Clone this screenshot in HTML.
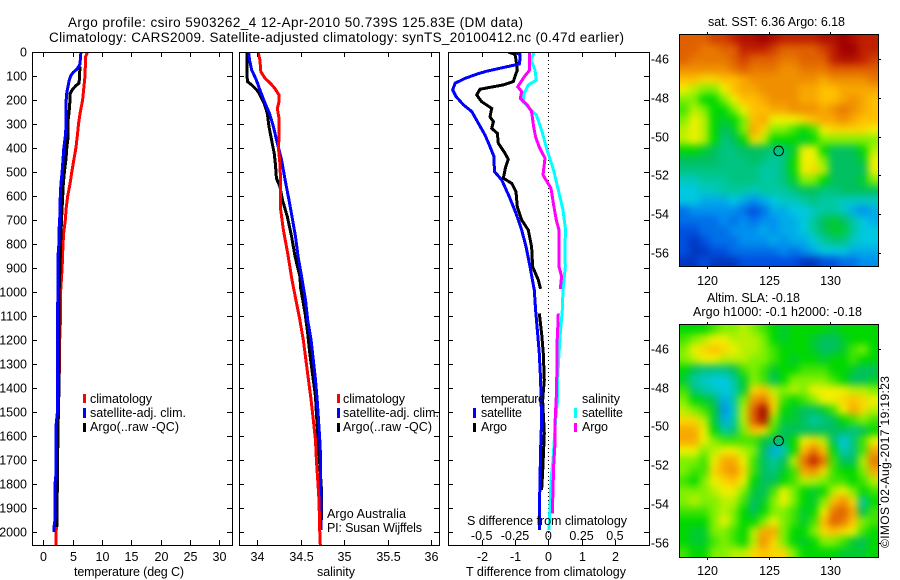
<!DOCTYPE html>
<html lang="en">
<head>
<meta charset="utf-8">
<title>Argo profile chart</title>
<style>
html,body{margin:0;padding:0;background:#fff;}
svg{display:block;}
text{font-family:"Liberation Sans",sans-serif;font-size:12.5px;fill:#000;}
.title{font-size:13.5px;}
</style>
</head>
<body>
<svg id="chart" xmlns="http://www.w3.org/2000/svg" width="900" height="580" viewBox="0 0 900 580">
  <defs>
    <clipPath id="clip-t"><rect x="33" y="52" width="199" height="493"/></clipPath>
    <clipPath id="clip-s"><rect x="240" y="52" width="199" height="493"/></clipPath>
    <clipPath id="clip-d"><rect x="449" y="52" width="200" height="493"/></clipPath>
    <clipPath id="clip-sst"><rect x="679" y="34" width="199" height="232"/></clipPath>
    <clipPath id="clip-sla"><rect x="679" y="324" width="199" height="233"/></clipPath>
    <filter id="map-blur-1" filterUnits="userSpaceOnUse" x="650" y="0" width="250" height="300" color-interpolation-filters="sRGB"><feGaussianBlur stdDeviation="4"/></filter>
    <filter id="map-blur-2" filterUnits="userSpaceOnUse" x="650" y="290" width="250" height="290" color-interpolation-filters="sRGB"><feGaussianBlur stdDeviation="4"/></filter>
  </defs>
  <rect x="0" y="0" width="900" height="580" fill="#fff"/>

  <text class="title" x="68" y="27" textLength="455">Argo profile: csiro 5903262_4 12-Apr-2010 50.739S 125.83E (DM data)</text>
  <text class="title" x="49" y="42" textLength="575">Climatology: CARS2009. Satellite-adjusted climatology: synTS_20100412.nc (0.47d earlier)</text>

  <g id="panel-temperature"></g>
  <g id="panel-salinity"></g>
  <g id="panel-difference"></g>
  <g id="panel-sst"></g>
  <g id="panel-sla"></g>

  <g>
    <rect x="83" y="394" width="3" height="9" fill="#f00"/>
    <text x="90" y="403" textLength="62">climatology</text>
    <rect x="83" y="408" width="3" height="10" fill="#00f"/>
    <text x="90" y="417" textLength="96">satellite-adj. clim.</text>
    <rect x="83" y="423" width="3" height="9" fill="#000"/>
    <text x="90" y="431" textLength="89">Argo(..raw -QC)</text>
  </g>
  <g>
    <rect x="337" y="394" width="3" height="9" fill="#f00"/>
    <text x="343" y="403" textLength="62">climatology</text>
    <rect x="337" y="408" width="3" height="10" fill="#00f"/>
    <text x="343" y="417" textLength="96">satellite-adj. clim.</text>
    <rect x="337" y="423" width="3" height="9" fill="#000"/>
    <text x="343" y="431" textLength="89">Argo(..raw -QC)</text>
  </g>
  <text x="327" y="518" textLength="79">Argo Australia</text>
  <text x="327" y="532" textLength="95">PI: Susan Wijffels</text>

  <g>
    <text x="481" y="403" textLength="64">temperature</text>
    <rect x="473" y="408" width="3" height="10" fill="#00f"/>
    <text x="481" y="417" textLength="41">satellite</text>
    <rect x="473" y="423" width="3" height="9" fill="#000"/>
    <text x="481" y="431" textLength="26">Argo</text>
    <text x="582" y="403" textLength="38">salinity</text>
    <rect x="574" y="408" width="3" height="10" fill="#0ff"/>
    <text x="582" y="417" textLength="41">satellite</text>
    <rect x="574" y="423" width="3" height="9" fill="#f0f"/>
    <text x="582" y="431" textLength="26">Argo</text>
  </g>

  <text x="129" y="576" text-anchor="middle" textLength="110">temperature (deg C)</text>
  <text x="336" y="576" text-anchor="middle" textLength="38">salinity</text>
  <text x="546" y="576" text-anchor="middle" textLength="160">T difference from climatology</text>
  <text x="547" y="525" text-anchor="middle" textLength="160">S difference from climatology</text>

  <text x="708" y="26" textLength="137">sat. SST: 6.36 Argo: 6.18</text>
  <text x="707" y="302" textLength="93">Altim. SLA: -0.18</text>
  <text x="693" y="316" textLength="169">Argo h1000: -0.1 h2000: -0.18</text>
  <text style="font-size:12px" transform="translate(889,548) rotate(-90)" textLength="172">©IMOS 02-Aug-2017 19:19:23</text>
</svg>

<script>
// ---------- axis tick data ----------
const depthTicks = [0,100,200,300,400,500,600,700,800,900,1000,1100,1200,1300,1400,1500,1600,1700,1800,1900,2000];
const tempTicks = [0,5,10,15,20,25,30];
const salTicks = [34,34.5,35,35.5,36];
const salTickLabels = ['34','34.5','35','35.5','36'];
const tDiffTicks = [-2,-1,0,1,2];
const sDiffTicks = [-0.5,-0.25,0,0.25,0.5];
const sDiffTickLabels = ['-0.5','-0.25','0','0.25','0.5'];
const lonTicks = [120,125,130];
const latTicks = [-46,-48,-50,-52,-54,-56];

// ---------- temperature profiles ----------
const tempClimDepth = [0,20,100,150,200,250,300,350,400,450,500,550,600,650,700,750,800,900,1000,1100,1200,1300,1400,1500,1600,1700,1800,1900,2000,2054];
const tempClimValue = [7.55,7.2,7.1,6.9,6.7,6.3,6,5.8,5.55,5.2,4.85,4.55,4.15,3.9,3.75,3.5,3.35,3.2,2.95,2.95,2.8,2.8,2.6,2.55,2.5,2.4,2.4,2.3,2.2,2.2];
const tempArgoDepth = [60,130,140,160,175,200,250,280,350,400,450,500,550,600,700,800,900,1000,1100,1300,1500,1550,1800,1950,1980];
const tempArgoValue = [6.25,6.1,5.55,4.85,4.55,4.55,4.4,4.25,4.25,4,3.85,3.6,3.4,3.3,3.1,2.95,2.85,2.7,2.7,2.7,2.6,2.5,2.4,2.3,2.3];
const tempSatDepth = [0,50,70,85,100,120,150,170,200,300,350,400,450,500,550,600,700,750,800,850,1000,1100,1500,1550,1750,1800,1950,1980,2000];
const tempSatValue = [6.4,6.25,5.8,5.1,4.65,4.4,4.15,4,3.9,3.9,3.75,3.5,3.35,3.2,3,2.9,2.8,2.65,2.65,2.5,2.5,2.4,2.4,2.2,2.2,2,2,1.8,1.8];

// ---------- salinity profiles ----------
const salClimDepth = [0,33,82,110,130,151,179,207,235,276,325,408,464,547,658,742,839,950,1033,1117,1200,1283,1367,1450,1533,1617,1700,1783,1867,2006,2054];
const salClimValue = [34.01,34.03,34.04,34.09,34.15,34.2,34.25,34.25,34.23,34.25,34.25,34.245,34.26,34.27,34.27,34.3,34.35,34.4,34.445,34.49,34.53,34.56,34.59,34.62,34.645,34.67,34.68,34.695,34.71,34.72,34.725];
const salArgoDepth = [0,123,137,165,214,256,311,367,422,471,526,561,617,686,769,853,936,985,1089,1172,1256,1339,1436,1506,1589,1832,1950];
const salArgoValue = [33.88,33.885,33.935,34.01,34.08,34.115,34.135,34.165,34.195,34.21,34.22,34.26,34.29,34.345,34.395,34.435,34.49,34.5,34.55,34.58,34.605,34.635,34.67,34.68,34.695,34.74,34.74];
const salSatDepth = [0,33,75,117,158,214,256,311,380,450,533,617,686,769,853,936,1033,1117,1200,1283,1367,1450,1533,1617,1700,1783,1992];
const salSatValue = [33.9,33.91,33.935,33.99,34.03,34.09,34.14,34.185,34.23,34.28,34.32,34.365,34.4,34.44,34.47,34.51,34.555,34.58,34.62,34.645,34.67,34.69,34.705,34.72,34.73,34.73,34.735];

// ---------- difference profiles (null marks a gap) ----------
const dtSatDepth = [0,10,30,50,80,90,110,130,158,186,220,248,297,346,394,436,498,533,603,672,742,811,894,992,1075,1172,1256,1367,1533,1658,1867,1992];
const dtSatValue = [-1.03,-0.85,-0.85,-0.87,-1.85,-2.1,-2.5,-2.8,-2.87,-2.77,-2.55,-2.3,-2.1,-1.9,-1.75,-1.63,-1.62,-1.4,-1.17,-0.97,-0.8,-0.67,-0.55,-0.42,-0.38,-0.32,-0.27,-0.23,-0.2,-0.23,-0.26,-0.27];
const dtArgoDepth = [0,10,33,75,123,137,155,179,207,235,270,290,318,339,380,422,447,478,526,547,582,645,700,742,811,894,950,987,1030,1089,1172,1256,1367,1450,1589,1658,1755,1825];
const dtArgoValue = [-1.2,-1,-0.97,-0.93,-1.05,-1.35,-2.05,-2.15,-2,-1.7,-1.75,-1.65,-1.7,-1.53,-1.5,-1.3,-1.2,-1.28,-1.35,-1.1,-0.97,-0.93,-0.8,-0.6,-0.5,-0.47,-0.3,-0.23,null,-0.27,-0.2,-0.15,-0.12,-0.17,-0.12,-0.14,-0.17,-0.2];
const dsSatDepth = [0,33,75,117,137,172,207,235,262,325,408,492,575,658,742,811,894,992,1075,1172,1256,1367,1450,1533,1617,1700,1783,1867,1992];
const dsSatValue = [-0.105,-0.13,-0.1,-0.09,-0.15,-0.18,-0.19,-0.14,-0.09,-0.05,-0.01,0.04,0.075,0.11,0.13,0.125,0.128,0.11,0.105,0.09,0.08,0.07,0.07,0.055,0.045,0.035,0.02,0.015,0.005];
const dsArgoDepth = [0,33,75,103,145,165,193,220,248,311,353,394,443,512,540,568,637,700,742,894,936,987,1030,1089,1165,1215,1312,1436,1547,1630,1728,1825,1922];
const dsArgoValue = [-0.14,-0.14,-0.14,-0.18,-0.23,-0.2,-0.21,-0.16,-0.125,-0.11,-0.095,-0.07,-0.025,-0.04,-0.01,0.02,0.04,0.06,0.08,0.08,0.1,0.09,null,0.075,0.07,0.065,0.065,0.06,0.05,0.05,0.04,0.035,0.03];

// ---------- Argo float position ----------
const argoLon = 125.83;
const argoLat = -50.739;

// ---------- map colour levels, 20 columns by 23 rows, north at top ----------
const sstGrid = [
[11,11,11,11.5,11.5,12,12.5,12.5,13,12.5,12,12,12,12,12.5,12.5,13,12.5,12,12],
[11,11,10.5,10.5,11,11,12,12,12,11.5,11,11,11,11,11.5,12,13,13,12,12],
[11,10.5,10.5,10.5,10.5,11,11.5,11,11,11,10.5,10.5,11,11,11,12,12.5,12.5,12,11.5],
[10,10,10,10,10,10.5,11,10.5,10.5,10.5,10,10,10.5,10.5,10.5,11,11,11,11,11],
[9,9,8.5,8.5,9,9,9.5,10,10,10,10,10,10,10,9.5,10,10,10,10,10.5],
[8,7.5,7,7,8,9,9.5,9.5,10,10,10,10,9.5,9.5,9,9,9.5,9.5,9.5,9.5],
[7,7,6,6,7,8,9,9,9.5,10,10,10,9.5,9.5,9,9,9.5,10,9.5,9],
[6.5,7.5,7,6,6,7,8,9,9,9.5,9.5,10,10,10,9.5,10,10.5,10,9.5,9],
[7,8,7.5,6,5.5,6,7,9,9.5,8,8,8,8.5,9,9.5,9.5,10,9.5,9,9],
[7.5,8,7.5,6,5,5.5,7,9.5,8.5,7,7,6.5,6,6.5,8,8.5,8.5,8.5,8.5,8],
[7.5,8,7.5,6,4.5,5,6,8.5,7.5,6,6,6,5.5,6,7,7,7,7,7,7],
[6,6,5.5,5,4.5,4.5,5,5,5,4.5,4.5,5.5,8,8,6,5,5,5,6,7.5],
[5,5,5,5,4.5,4.5,4.5,5,4.5,4,4.5,6,8,8,7,5,5,5,5.5,8],
[4.5,4.5,4.5,4.5,4.5,4.5,4.5,4.5,4,4,4.5,6,8,8.5,7.5,5,5,5,5,8],
[3.5,3.5,4,4,4,4.5,4.5,4.5,4,4,4.5,5.5,7,7,6,5,5,5,5.5,7],
[3,3,3.5,3.5,4,4,4,3.5,4,4,4,4.5,5,5,4.5,4.5,5,5,5,5],
[3,3,2.5,2.5,2.5,3,2.5,2,2.5,3,3.5,3.5,4,4.5,4,4,3.5,3.5,3.5,3.5],
[1.5,2,2,2,2,2,1.5,1,1.5,2.5,2.5,3,3,3.5,4,4,3.5,2.5,2,2.5],
[1.5,1.5,1.5,1.5,2,1.5,2,1.5,2,2,2.5,2.5,3,4,5,5.5,5,4,3,2.5],
[1,1,1.5,1.5,1.5,2,2,2,2.5,2,2.5,2.5,3,4,5,5.5,5.5,4,3,3],
[1,0.5,1,1.5,1.5,1.5,2,2,2,2.5,2,2.5,2.5,3,4,4.5,4.5,3.5,3,3],
[1,0.5,0.5,1,1,1.5,1.5,1.5,1.5,1.5,2,1.5,2,2.5,3,3,3,2.5,2.5,2.5],
[0.5,0.5,1,0.5,0.5,0.5,1,1,1,1,1,1,0.5,0.5,1,1,1.5,1.5,2,2]
];
const slaGrid = [
[6,6,6,6.5,7,7,7.5,7,6.5,6,5.5,6,6,6,6,5.5,6,6,6,6],
[6.5,7,7.5,8,8,7.5,7.5,7.5,7,6,5.5,6,6,5.5,5,5,5.5,6,6,6],
[7,8,8.5,9,8.5,8,7.5,7.5,7,6.5,6,6,6,5.5,5,5,5.5,6.5,7,6],
[7,7.5,8,8,7.5,7.5,7.5,7,7,6.5,6,5.5,6,6,5.5,6,6,6.5,6,6],
[6,5,4.5,4.5,4.5,5,6.5,7,6.5,5.5,6,6,6.5,6.5,6.5,6,6,5.5,5,5],
[5.5,4,3.5,3,3,4,5.5,7,6.5,5,6,7,7,7,7,6.5,6,5,5,5.5],
[6.5,4.5,4,3.5,3,3.5,5.5,8.5,9,7.5,7,7.5,7,8,8,8,8,7.5,7.5,7],
[7,6,5.5,5,2.5,4,7,10,10.5,8.5,6.5,6,6.5,7,8,8,8.5,9,8.5,8],
[7.5,7,6.5,5.5,2,3.5,7.5,11,13,8.5,6,5.5,5,5,5.5,6.5,8,9.5,8.5,7.5],
[8.5,8.5,7.5,5.5,2.5,4,7.5,11,12.5,7,5.5,5.5,5,4,4.5,5,6,6.5,7,6.5],
[9.5,9.5,8,6,4,4.5,7,9,8.5,6.5,5,5,5,5,5,5,5,4.5,5,6],
[9.5,9.5,8,7,6.5,6.5,6.5,6.5,5.5,5,5,6,8,8.5,7.5,5,3,4.5,6.5,8],
[8,8,7,7.5,8,8,7.5,7,5,2.5,3.5,6,9,10.5,9,6,3.5,4.5,6.5,9.5],
[7,7,6.5,8,9.5,9.5,8,6.5,5,4,5,7.5,10.5,12,10.5,6.5,5,5,7.5,10.5],
[7,6.5,6.5,8.5,9.5,10,8.5,6.5,5,4.5,5.5,6.5,9.5,10,8.5,6.5,6,6,7,9.5],
[6.5,6,7,8,8.5,9,8,6,5,5,6,6.5,7.5,7.5,7,6.5,6.5,6,6.5,7.5],
[7,7,7,7.5,8,8,7,5.5,5,6.5,8,7,6,5.5,6,7.5,8,7,6,6.5],
[7,7.5,7,7,7.5,7.5,6.5,5,5.5,7,8,7,6,5.5,7,9,10,8.5,4,6],
[6.5,6.5,6.5,7,7.5,7,6,5,6,7,7,6.5,5.5,6,8,10.5,11,9.5,5,6.5],
[6,6,6,7,8,7,6,6,7,8,7,6.5,5.5,6.5,9,11,10.5,9,7,6.5],
[6,5.5,5.5,7,7,6.5,6,7.5,9.5,9.5,7,6,6,7,8.5,9,8.5,8,6.5,6],
[6,5.5,5.5,6.5,7,6.5,6,7.5,10,8.5,7,6,5.5,6,7,7,6.5,5.5,5,6],
[6.5,6,6,7,7,7.5,7.5,8.5,9,8.5,8.5,7,6,6,6,6,5.5,5.5,5.5,6]
];
const mapPalette = ['#0020a0','#0050e0','#0090f0','#00c8e0','#00c8a0','#00c060','#00d800','#80f000','#f0f000','#ffc000','#f09000','#e06000','#c02000','#a00000'];

// ---------- helpers ----------
const SVGNS = 'http://www.w3.org/2000/svg';
function node(tag, attrs, parent) {
  const el = document.createElementNS(SVGNS, tag);
  for (const k in attrs) el.setAttribute(k, attrs[k]);
  parent.appendChild(el);
  return el;
}
function hexToRgb(h) {
  return [parseInt(h.slice(1,3),16), parseInt(h.slice(3,5),16), parseInt(h.slice(5,7),16)];
}
function levelColor(v) {
  const lo = Math.max(0, Math.min(mapPalette.length - 2, Math.floor(v)));
  const f = Math.max(0, Math.min(1, v - lo));
  const a = hexToRgb(mapPalette[lo]);
  const b = hexToRgb(mapPalette[lo + 1]);
  return 'rgb(' + a.map((c, i) => Math.round(c + (b[i] - c) * f)).join(',') + ')';
}

// ---------- scales ----------
const plotTop = 52, plotBottom = 545;
const yDepth = d => plotTop + d * 0.24;
const xTemp = t => 43.3 + t * 5.87;
const xSal = s => 257.3 + (s - 34) * 86.85;
const xDT = t => 548.3 + t * 33.3;
const xDS = s => 548.3 + s * 133.2;

function drawProfile(parent, depths, values, xFn, color, width, name) {
  const g = node('g', {'clip-path': parent.clip, fill: 'none', stroke: color, 'stroke-width': width, 'shape-rendering': 'crispEdges', 'stroke-linejoin': 'miter'}, parent.el);
  
  
  let pts = [];
  const flush = () => {
    if (pts.length > 1) {
      const line = node('polyline', {points: pts.join(' ')}, g);
      
      
    }
    pts = [];
  };
  depths.forEach((d, i) => {
    if (values[i] === null) { flush(); return; }
    pts.push(xFn(values[i]).toFixed(1) + ',' + yDepth(d).toFixed(1));
  });
  flush();
}

function drawBox(g, x0, x1, y0, y1) {
  const box = node('rect', {x: x0 + 0.5, y: y0 + 0.5, width: x1 - x0, height: y1 - y0, fill: 'none', stroke: '#000', 'stroke-width': 1, 'shape-rendering': 'crispEdges'}, g);
  
  
}
function tick(g, x1, y1, x2, y2) {
  const t = node('line', {x1: x1, y1: y1, x2: x2, y2: y2, stroke: '#000', 'stroke-width': 1, 'shape-rendering': 'crispEdges'}, g);
  
  
}
function label(g, x, y, anchor, str) {
  const t = node('text', {x: x, y: y, 'text-anchor': anchor}, g);
  t.textContent = str;
  
  
}

function profileAxes(g, x0, x1, showDepthLabels) {
  drawBox(g, x0, x1, plotTop, plotBottom);
  depthTicks.forEach(d => {
    const y = Math.round(yDepth(d)) + 0.5;
    tick(g, x0, y, x0 + 5, y);
    tick(g, x1 - 5, y, x1, y);
    if (showDepthLabels) label(g, 27, y + 4, 'end', String(d));
  });
}
function xTicks(g, vals, xFn, labels, y) {
  vals.forEach((v, i) => {
    const x = Math.round(xFn(v)) + 0.5;
    tick(g, x, plotBottom - 5, x, plotBottom);
    tick(g, x, plotTop, x, plotTop + 5);
    label(g, x, y, 'middle', labels ? labels[i] : String(v));
  });
}

// ---------- temperature panel ----------
const gT = document.getElementById('panel-temperature');
drawProfile({el: gT, clip: 'url(#clip-t)'}, tempClimDepth, tempClimValue, xTemp, '#f00', 3, 'temperature-climatology-line');
drawProfile({el: gT, clip: 'url(#clip-t)'}, tempArgoDepth, tempArgoValue, xTemp, '#000', 3, 'temperature-argo-line');
drawProfile({el: gT, clip: 'url(#clip-t)'}, tempSatDepth, tempSatValue, xTemp, '#00f', 3, 'temperature-satellite-line');
profileAxes(gT, 32, 232, true);
xTicks(gT, tempTicks, xTemp, null, 561);

// ---------- salinity panel ----------
const gS = document.getElementById('panel-salinity');
drawProfile({el: gS, clip: 'url(#clip-s)'}, salArgoDepth, salArgoValue, xSal, '#000', 3, 'salinity-argo-line');
drawProfile({el: gS, clip: 'url(#clip-s)'}, salSatDepth, salSatValue, xSal, '#00f', 3, 'salinity-satellite-line');
drawProfile({el: gS, clip: 'url(#clip-s)'}, salClimDepth, salClimValue, xSal, '#f00', 3, 'salinity-climatology-line');
profileAxes(gS, 239, 439, false);
xTicks(gS, salTicks, xSal, salTickLabels, 561);

// ---------- difference panel ----------
const gD = document.getElementById('panel-difference');
const zeroLine = node('line', {x1: 548.5, y1: plotTop, x2: 548.5, y2: plotBottom, stroke: '#000', 'stroke-width': 1, 'stroke-dasharray': '1 3', 'shape-rendering': 'crispEdges'}, gD);


drawProfile({el: gD, clip: 'url(#clip-d)'}, dtArgoDepth, dtArgoValue, xDT, '#000', 3, 'difference-t-argo-line');
drawProfile({el: gD, clip: 'url(#clip-d)'}, dtSatDepth, dtSatValue, xDT, '#00f', 3, 'difference-t-satellite-line');
drawProfile({el: gD, clip: 'url(#clip-d)'}, dsSatDepth, dsSatValue, xDS, '#0ff', 3, 'difference-s-satellite-line');
drawProfile({el: gD, clip: 'url(#clip-d)'}, dsArgoDepth, dsArgoValue, xDS, '#f0f', 3, 'difference-s-argo-line');
profileAxes(gD, 448, 649, false);
xTicks(gD, tDiffTicks, xDT, null, 561);
sDiffTicks.forEach((v, i) => label(gD, xDS(v), 540, 'middle', sDiffTickLabels[i]));

// ---------- maps ----------
function drawMap(g, grid, x0, x1, y0, y1, lat46y, lat56y, clip, filter, xLabelY) {
  const xLon = lon => 707.3 + (lon - 120) * 12.24;
  const yLat = lat => lat46y + (-46 - lat) * (lat56y - lat46y) / 10;
  const outer = node('g', {'clip-path': clip}, g);
  
  
  const inner = node('g', {filter: filter, 'shape-rendering': 'crispEdges'}, outer);
  const rows = grid.length, cols = grid[0].length;
  const cw = (x1 - x0) / cols, ch = (y1 - y0) / rows;
  const pad = 16;
  grid.forEach((row, r) => row.forEach((v, c) => {
    const lx = x0 + c * cw - (c === 0 ? pad : 0);
    const rx = x0 + (c + 1) * cw + (c === cols - 1 ? pad : 0);
    const ty = y0 + r * ch - (r === 0 ? pad : 0);
    const by = y0 + (r + 1) * ch + (r === rows - 1 ? pad : 0);
    const cell = node('rect', {x: lx, y: ty, width: rx - lx + 0.5, height: by - ty + 0.5, fill: levelColor(v)}, inner);
    
    
  }));
  drawBox(g, x0, x1, y0, y1);
  lonTicks.forEach(lon => {
    const x = Math.round(xLon(lon)) + 0.5;
    tick(g, x, y0 - 2, x, y0);
    tick(g, x, y1 + 1, x, y1 + 3);
    label(g, x, xLabelY, 'middle', String(lon));
  });
  latTicks.forEach(lat => {
    const y = Math.round(yLat(lat)) + 0.5;
    tick(g, x1 + 1, y, x1 + 3, y);
    label(g, 669, y + 4, 'end', String(lat));
  });
  const marker = node('circle', {cx: xLon(argoLon), cy: yLat(argoLat), r: 4.8, fill: 'none', stroke: '#000', 'stroke-width': 1}, g);
  
  
}
drawMap(document.getElementById('panel-sst'), sstGrid, 679, 878, 34, 266, 59.3, 252.7, 'url(#clip-sst)', 'url(#map-blur-1)', 285);
drawMap(document.getElementById('panel-sla'), slaGrid, 679, 878, 324, 557, 349, 542.7, 'url(#clip-sla)', 'url(#map-blur-2)', 575);
</script>
</body>
</html>
